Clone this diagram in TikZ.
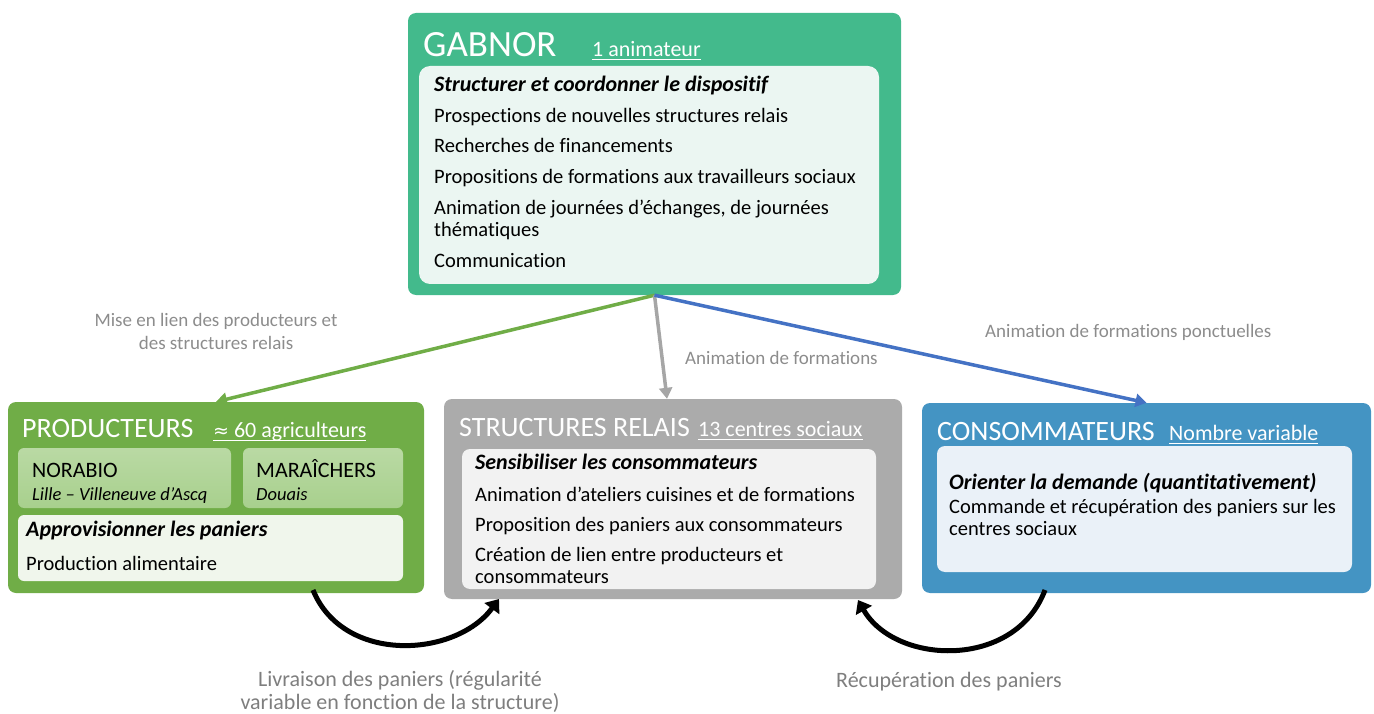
\documentclass[tikz,border=0pt]{standalone}
\usepackage{fontspec}
\setmainfont{Carlito}[Ligatures=NoCommon]
\newfontfamily\djv{DejaVu Sans}
\newcommand\myul[1]{\leavevmode\setbox0=\hbox{#1}\dp0=0pt\vtop{\box0\kern2.5pt\hrule height 1pt}}
\usetikzlibrary{arrows.meta}
\definecolor{gabc}{HTML}{43BA8C}
\definecolor{gabin}{HTML}{EBF6F2}
\definecolor{prodc}{HTML}{70AD47}
\definecolor{prodsub}{HTML}{A8D08D}
\definecolor{prodin}{HTML}{F0F6EC}
\definecolor{strc}{HTML}{ABABAB}
\definecolor{strin}{HTML}{F2F2F2}
\definecolor{consc}{HTML}{4494C3}
\definecolor{consin}{HTML}{EAF1F8}
\definecolor{bluearr}{HTML}{4472C4}
\definecolor{grayarr}{HTML}{A6A6A6}
\definecolor{lblc}{HTML}{8C8C8C}
\begin{document}
\begin{tikzpicture}[x=1pt,y=-1pt,
  outerbox/.style={rectangle, rounded corners=8pt, inner sep=0pt, draw=none},
  innerbox/.style={rectangle, rounded corners=11pt, inner sep=0pt, draw=none},
  subbox/.style={rectangle, rounded corners=6pt, inner sep=0pt, draw=none, top color=prodsub!80!white, bottom color=prodsub},
  txt/.style={anchor=base west, inner sep=0pt, font=\fontsize{20.5}{23}\selectfont},
  head/.style={txt, font=\fontsize{22}{24}\selectfont\bfseries\itshape},
  ttl/.style={anchor=base west, inner sep=0pt, text=white, font=\fontsize{28}{30}\selectfont},
  sub/.style={anchor=base west, inner sep=0pt, text=white, font=\fontsize{22}{24}\selectfont},
  lbl/.style={inner sep=0pt, text=lblc, font=\fontsize{19}{23}\selectfont},
  blbl/.style={inner sep=0pt, anchor=base, text=lblc!90!black, font=\fontsize{22}{25}\selectfont},
  link/.style={line width=3.5pt, -{Triangle[length=11pt,width=13pt]}},
  flow/.style={line width=5pt, black, -{Triangle[length=12pt,width=18pt]}}
]
\useasboundingbox (0,0) rectangle (1374,714);

% GABNOR
\node[outerbox, fill=gabc, minimum width=493pt, minimum height=282pt] (gab) at (654.5,154) {};
\node[innerbox, fill=gabin, minimum width=460pt, minimum height=218pt] (gabi) at (649,175) {};
\node[anchor=base west, inner sep=0pt, text=white, font=\fontsize{37}{40}\selectfont] (gabt) at (423,57) {GABNOR};
\node[sub] (gabs) at (592,57) {\myul{1 animateur}};
\node[head] (g0) at (434,92) {Structurer et coordonner le dispositif};
\node[txt] (g1) at (434,123) {Prospections de nouvelles structures relais};
\node[txt] (g2) at (434,153) {Recherches de financements};
\node[txt] (g3) at (434,184) {Propositions de formations aux travailleurs sociaux};
\node[txt] (g4) at (434,215) {Animation de journées d’échanges, de journées};
\node[txt] (g5) at (434,237) {thématiques};
\node[txt] (g6) at (434,268) {Communication};

% PRODUCTEURS
\node[outerbox, fill=prodc, minimum width=416pt, minimum height=191pt] (prod) at (216,497.5) {};
\node[subbox, minimum width=213pt, minimum height=60pt] (nora) at (124.5,478) {};
\node[subbox, minimum width=160pt, minimum height=60pt] (mara) at (323,478) {};
\node[innerbox, rounded corners=6pt, fill=prodin, minimum width=385pt, minimum height=66pt] (prodi) at (210.5,548) {};
\node[ttl] (prodt) at (22,437) {PRODUCTEURS};
\node[sub] (prods) at (213,437) {\myul{{\djv\fontsize{19}{20}\selectfont ≈} 60 agriculteurs}};
\node[txt, font=\fontsize{22}{24}\selectfont] (n1) at (32,477) {NORABIO};
\node[txt, font=\fontsize{18.5}{22}\selectfont\itshape] (n2) at (32,500) {Lille – Villeneuve d’Ascq};
\node[txt, font=\fontsize{22}{24}\selectfont] (m1) at (256,477) {MARAÎCHERS};
\node[txt, font=\fontsize{18.5}{22}\selectfont\itshape] (m2) at (256,500) {Douais};
\node[head] (p1) at (26,536) {Approvisionner les paniers};
\node[txt] (p2) at (26,570) {Production alimentaire};

% STRUCTURES RELAIS
\node[outerbox, fill=strc, minimum width=458pt, minimum height=200pt] (str) at (673,499) {};
\node[innerbox, rounded corners=8pt, fill=strin, minimum width=414pt, minimum height=140pt] (stri) at (669,519) {};
\node[ttl] (strt) at (459,436) {STRUCTURES RELAIS};
\node[sub] (strs) at (698,436) {\myul{13 centres sociaux}};
\node[head] (s0) at (475,469) {Sensibiliser les consommateurs};
\node[txt] (s1) at (475,501) {Animation d’ateliers cuisines et de formations};
\node[txt] (s2) at (475,531) {Proposition des paniers aux consommateurs};
\node[txt] (s3) at (475,561) {Création de lien entre producteurs et};
\node[txt] (s4) at (475,583) {consommateurs};

% CONSOMMATEURS
\node[outerbox, fill=consc, minimum width=449pt, minimum height=190pt] (cons) at (1146.5,498) {};
\node[innerbox, rounded corners=8pt, fill=consin, minimum width=415pt, minimum height=126pt] (consi) at (1144.5,509) {};
\node[ttl] (const) at (937,440) {CONSOMMATEURS};
\node[sub] (conss) at (1169,440) {\myul{Nombre variable}};
\node[head] (c0) at (949,489) {Orienter la demande (quantitativement)};
\node[txt] (c1) at (949,513) {Commande et récupération des paniers sur les};
\node[txt] (c2) at (949,535) {centres sociaux};

% links from GABNOR
\draw[link, prodc] (gab.south) -- (prod.north);
\draw[link, grayarr] (gab.south) -- ([xshift=-6pt]str.north);
\draw[link, bluearr] (gab.south) -- (cons.north);

\node[lbl, align=center] (l1) at (216,331) {Mise en lien des producteurs et\\des structures relais};
\node[lbl, anchor=base west] (l2) at (685,364) {Animation de formations};
\node[lbl, anchor=base west] (l3) at (985,337) {Animation de formations ponctuelles};

% flows
\coordinate (f1s) at (313,590);
\coordinate (f1e) at (499,599);
\coordinate (f2s) at (1045,590);
\coordinate (f2e) at (858,600);
\draw[flow] (f1s) .. controls (343,664) and (455,658) .. (f1e);
\draw[flow] (f2s) .. controls (1015,670) and (895,665) .. (f2e);

\node[blbl] (l4a) at (400,686) {Livraison des paniers (régularité};
\node[blbl] (l4b) at (400,709) {variable en fonction de la structure)};
\node[blbl, anchor=base west] (l5) at (836,687) {Récupération des paniers};
\end{tikzpicture}
\end{document}
